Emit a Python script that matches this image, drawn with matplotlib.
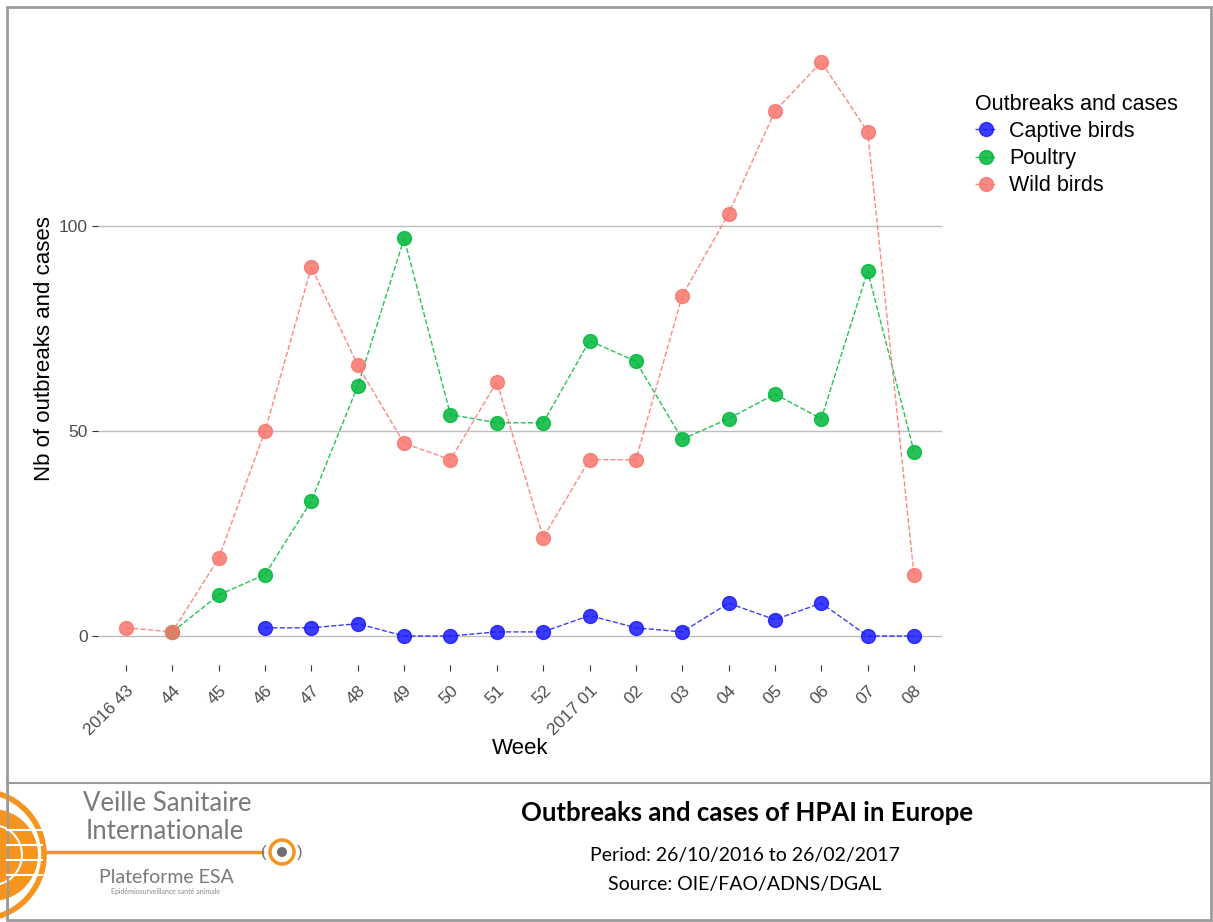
import numpy as np
import matplotlib.pyplot as plt
from matplotlib.patches import Circle, Wedge, Rectangle

# Data
weeks = ['2016 43', '44', '45', '46', '47', '48', '49', '50', '51', '52',
         '2017 01', '02', '03', '04', '05', '06', '07', '08']
captive_weeks = weeks[3:]
captive = [2, 2, 3, 0, 0, 1, 1, 5, 2, 1, 8, 4, 8, 0, 0]
poultry_weeks = weeks[1:]
poultry = [1, 10, 15, 33, 61, 97, 54, 52, 52, 72, 67, 48, 53, 59, 53, 89, 45]
wild_weeks = weeks
wild = [2, 1, 19, 50, 90, 66, 47, 43, 62, 24, 43, 43, 83, 103, 128, 140, 123, 15]

series = [('Captive birds', captive_weeks, captive, '#1a1aff'),
          ('Poultry', poultry_weeks, poultry, '#00b83a'),
          ('Wild birds', wild_weeks, wild, '#f8766d')]

plt.rcParams['font.family'] = ['Liberation Sans', 'DejaVu Sans']

W, H = 1213, 922
fig = plt.figure(figsize=(W / 100, H / 100), dpi=100)

# main panel
ax = fig.add_axes([98.2 / W, 1 - 664.7 / H, (941.8 - 98.2) / W, (664.7 - 33.3) / H])
pos = {w: i for i, w in enumerate(weeks)}
for name, wk, vals, col in series:
    xs = [pos[w] for w in wk]
    ax.plot(xs, vals, linestyle='--', lw=1, color=col, alpha=0.85)
    ax.plot(xs, vals, linestyle='none', marker='o', ms=10, color=col,
            alpha=0.85, mec=col, label=name)

ax.set_xlim(-0.6, len(weeks) - 1 + 0.6)
ax.set_ylim(-7, 147)
ax.set_xticks(range(len(weeks)))
ax.set_xticklabels(weeks, rotation=45, ha='right', rotation_mode='anchor')
ax.set_yticks([0, 50, 100])
ax.grid(axis='y', color='#bebebe', lw=1)
ax.set_axisbelow(True)
for s in ax.spines.values():
    s.set_visible(False)
ax.tick_params(axis='both', colors='#333333', labelcolor='#4d4d4d',
               labelsize=12.5, length=4, width=0.8)
ax.tick_params(axis='x', pad=9)
ax.set_xlabel('Week', fontsize=16, labelpad=0)
ax.set_ylabel('Nb of outbreaks and cases', fontsize=16, labelpad=3)

# legend (markers with line)
handles = []
for name, wk, vals, col in series:
    h, = ax.plot([], [], linestyle='--', lw=1, marker='o', ms=10, color=col,
                 alpha=0.85, label=name)
    handles.append(h)
fig.legend(handles=handles, loc='upper left',
           bbox_to_anchor=(975 / W, 1 - 94 / H), frameon=False,
           title='Outbreaks and cases', title_fontsize=15.5, fontsize=15.5,
           alignment='left', handlelength=1.0, handletextpad=0.6,
           labelspacing=0.28, borderaxespad=0, borderpad=0)

# overlay for frame and footer, pixel coordinates
ov = fig.add_axes([0, 0, 1, 1], zorder=-1)
ov.set_xlim(0, W)
ov.set_ylim(H, 0)
ov.axis('off')
ov.add_patch(Rectangle((7, 7), 1204, 913, fill=False, ec='#9a9a9a', lw=2))
ov.plot([7, 1211], [783, 783], color='#9a9a9a', lw=1.5)

orange = '#f7941d'
grey = '#6d6e71'
ov.add_patch(Circle((-20, 855), 64, fill=False, ec=orange, lw=4))
ov.add_patch(Circle((-8, 855), 46, fc=orange, ec='none'))
for yy in [830, 845, 860, 875]:
    ov.plot([7, 42], [yy, yy], color='white', lw=1.5)
ov.add_patch(Wedge((-8, 855), 30, -90, 90, fill=False, ec='white', lw=1.5))
ov.plot([46, 262], [852, 852], color=orange, lw=2.5)
ov.add_patch(Circle((282, 852), 12, fill=False, ec=orange, lw=2.5))
ov.add_patch(Circle((282, 852), 5, fc=grey, ec='none'))
ov.text(264, 852, '(', color=grey, fontsize=12, ha='center', va='center')
ov.text(300, 852, ')', color=grey, fontsize=12, ha='center', va='center')
ov.add_patch(Rectangle((7, 784), 1.5, 136, fc='#9a9a9a', ec='none'))

logo_font = ['Lato', 'DejaVu Sans']
ov.text(167, 803, 'Veille Sanitaire', color='#7a7a7a', fontsize=18.5,
        ha='center', va='center', family=logo_font)
ov.text(165, 831, 'Internationale', color='#7a7a7a', fontsize=18.5,
        ha='center', va='center', family=logo_font)
ov.text(166, 877, 'Plateforme ESA', color='#7a7a7a', fontsize=14,
        ha='center', va='center', family=logo_font)
ov.text(166, 891, 'Epidémiosurveillance santé animale', color='#8a8a8a',
        fontsize=5, ha='center', va='center', family=logo_font)

foot_font = ['Lato', 'DejaVu Sans']
ov.text(747, 813, 'Outbreaks and cases of HPAI in Europe', fontsize=18.5,
        fontweight='bold', ha='center', va='center', family=foot_font)
ov.text(745, 855, 'Period: 26/10/2016 to 26/02/2017', fontsize=14,
        ha='center', va='center', family=foot_font)
ov.text(745, 884, 'Source: OIE/FAO/ADNS/DGAL', fontsize=14,
        ha='center', va='center', family=foot_font)

fig.savefig('out.png', dpi=100)
